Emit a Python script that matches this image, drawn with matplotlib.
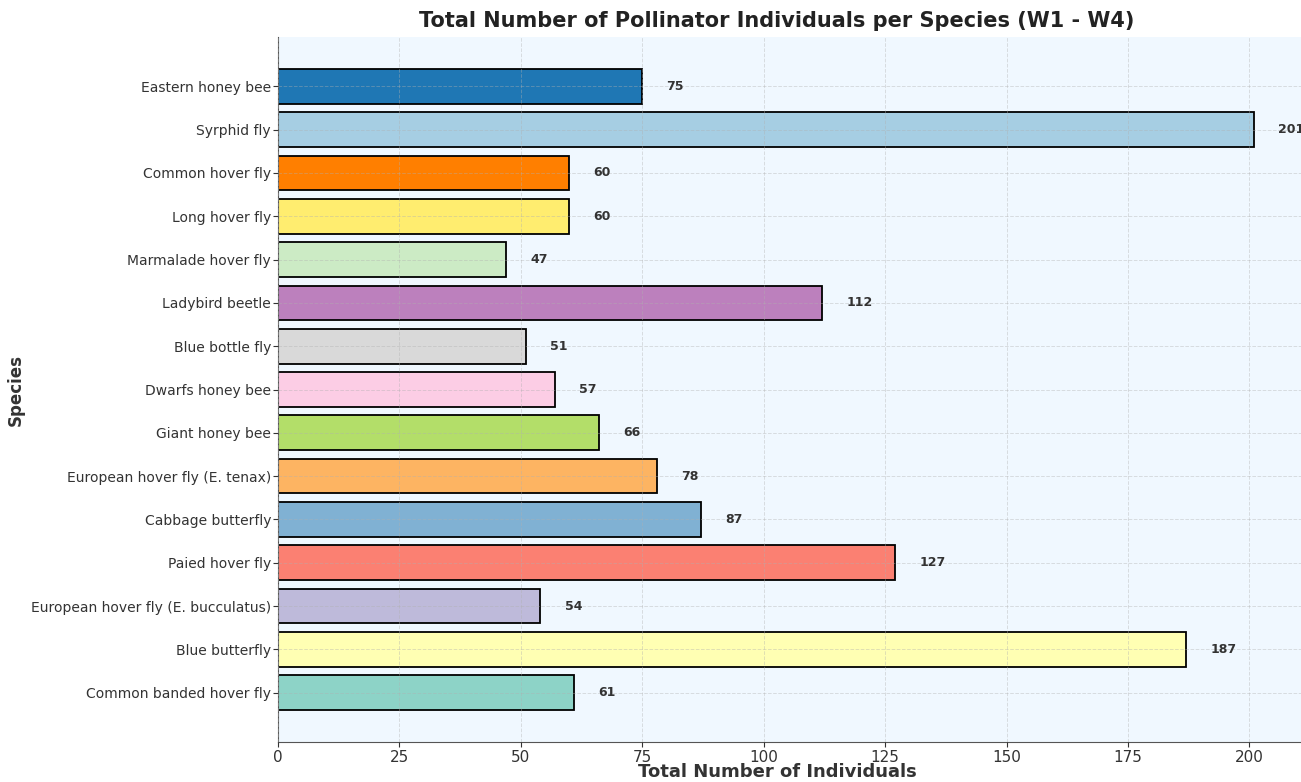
import matplotlib
matplotlib.use("Agg")
import matplotlib.pyplot as plt

# totals over weeks W1-W4, listed top to bottom
species = [
    "Eastern honey bee",
    "Syrphid fly",
    "Common hover fly",
    "Long hover fly",
    "Marmalade hover fly",
    "Ladybird beetle",
    "Blue bottle fly",
    "Dwarfs honey bee",
    "Giant honey bee",
    "European hover fly (E. tenax)",
    "Cabbage butterfly",
    "Paied hover fly",
    "European hover fly (E. bucculatus)",
    "Blue butterfly",
    "Common banded hover fly",
]
totals = [75, 201, 60, 60, 47, 112, 51, 57, 66, 78, 87, 127, 54, 187, 61]
colors = [
    "#1f77b4", "#a6cee3", "#ff7f00", "#ffed6f", "#ccebc5",
    "#bc80bd", "#d9d9d9", "#fccde5", "#b3de69", "#fdb462",
    "#80b1d3", "#fb8072", "#bebada", "#ffffb3", "#8dd3c7",
]

fig = plt.figure(figsize=(13.01, 7.82), dpi=100)
ax = fig.add_axes([278 / 1301, 1 - 742 / 782, 1025 / 1301, 705 / 782])
ax.set_facecolor("#f0f8ff")

ypos = list(range(len(species)))
ax.barh(ypos, totals, color=colors, edgecolor="black", linewidth=1.3, height=0.8, zorder=2)
ax.invert_yaxis()
ax.set_yticks(ypos)
ax.set_yticklabels(species)

for y, v in zip(ypos, totals):
    ax.text(v + 5, y, str(v), va="center", ha="left", fontsize=9,
            fontweight="bold", color="#333333", zorder=4)

ax.grid(True, linestyle="--", color="#b0b0b0", alpha=0.4, linewidth=0.7, zorder=3)
ax.set_axisbelow(False)
ax.set_xticks([0, 25, 50, 75, 100, 125, 150, 175, 200])

ax.tick_params(axis="y", labelsize=10, colors="#333333", pad=1.5)
ax.tick_params(axis="x", labelsize=11, colors="#333333", pad=2)
for side in ["top", "right"]:
    ax.spines[side].set_visible(False)
for side in ["left", "bottom"]:
    ax.spines[side].set_color("#555555")

ax.set_title("Total Number of Pollinator Individuals per Species (W1 - W4)",
             fontsize=15, fontweight="bold", color="#222222", pad=7, x=0.487)
ax.set_xlabel("Total Number of Individuals", fontsize=13, fontweight="bold",
              color="#333333")
ax.set_ylabel("Species", fontsize=12, fontweight="bold", color="#333333")
ax.xaxis.set_label_coords(0.487, -0.03)
ax.yaxis.set_label_coords(-0.247, 0.5)

fig.savefig("out.png", dpi=100)
